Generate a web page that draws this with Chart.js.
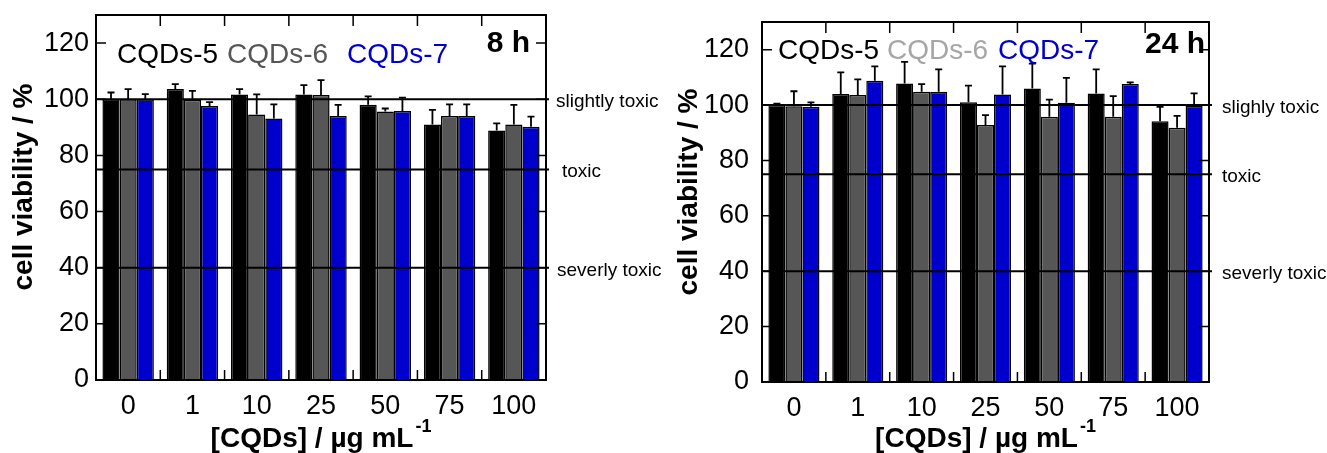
<!DOCTYPE html>
<html>
<head>
<meta charset="utf-8">
<script src="https://cdn.jsdelivr.net/npm/chart.js@4/dist/chart.umd.min.js"></script>
<style>
  body { margin: 0; background: #fff; }
  .panel { position: absolute; top: 0; height: 453px; }
  #left { left: 0; width: 663px; }
  #right { left: 663px; width: 664px; }
</style>
</head>
<body>
<div class="panel" id="left"><canvas id="chart8"></canvas></div>
<div class="panel" id="right"><canvas id="chart24"></canvas></div>
<script>
// concentrations of CQDs, ug/mL
const concentrations = ["0", "1", "10", "25", "50", "75", "100"];
const seriesNames = ["CQDs-5", "CQDs-6", "CQDs-7"];
const yTicks = [0, 20, 40, 60, 80, 100, 120];

// 8 h viability (%) and upper error
const cqd5_8h = [100, 103.6, 101.7, 101.7, 98, 91, 88.9];
const cqd5_8h_err = [2.4, 1.8, 1.9, 3.3, 3, 5.2, 2.5];
const cqd6_8h = [100, 99.8, 94.6, 101.5, 95.6, 94, 91];
const cqd6_8h_err = [3.6, 3.2, 7.1, 5.3, 1.1, 4.2, 7];
const cqd7_8h = [100, 97.6, 93.1, 94, 95.8, 94, 90.2];
const cqd7_8h_err = [1.8, 1.4, 5.1, 4, 4.8, 4.2, 3.6];

// 24 h viability (%) and upper error
const cqd5_24h = [100, 104, 107.8, 101, 106, 104.2, 94.2];
const cqd5_24h_err = [0.5, 7.8, 7.8, 6, 9, 8.7, 5.2];
const cqd6_24h = [99.6, 103.6, 104.8, 92.8, 95.8, 95.8, 91.8];
const cqd6_24h_err = [5.4, 5.7, 2.8, 3.6, 6.2, 7.4, 4.3];
const cqd7_24h = [99.4, 108.8, 104.8, 103.8, 100.8, 107.6, 99.8];
const cqd7_24h_err = [1.6, 5.2, 8.1, 10.2, 9, 0.6, 4.4];

// toxicity thresholds
const thresholdValues = [100, 75, 40];

const FONT = "'Liberation Sans', Arial, sans-serif";
const barColors = ["#000000", "#565656", "#0000cc"];


// ---------------------------------------------------------
// Draws error bars, threshold lines, frame, inward ticks and texts
// ---------------------------------------------------------
const overlayPlugin = {
  id: "overlay",
  afterDatasetsDraw(chart, args, opts) {
    const { ctx, chartArea: a, scales: { x, y } } = chart;
    ctx.save();

    // error bars (upper only)
    ctx.strokeStyle = "#000";
    ctx.lineWidth = 1.8;
    chart.data.datasets.forEach((ds, i) => {
      chart.getDatasetMeta(i).data.forEach((bar, j) => {
        const top = y.getPixelForValue(ds.data[j] + ds.errors[j]);
        ctx.beginPath();
        ctx.moveTo(bar.x, y.getPixelForValue(ds.data[j]));
        ctx.lineTo(bar.x, top);
        ctx.moveTo(bar.x - 3.5, top);
        ctx.lineTo(bar.x + 3.5, top);
        ctx.stroke();
      });
    });

    // threshold lines + labels
    ctx.lineWidth = 2;
    ctx.font = "19px " + FONT;
    ctx.fillStyle = "#000";
    ctx.textBaseline = "alphabetic";
    ctx.textAlign = "left";
    thresholdValues.forEach((v, i) => {
      const py = y.getPixelForValue(v);
      ctx.beginPath();
      ctx.moveTo(a.left, py);
      ctx.lineTo(a.right + 3, py);
      ctx.stroke();
      const lab = opts.labels[i];
      ctx.fillText(lab.text, a.right + lab.dx, py + 8);
    });

    // frame
    ctx.lineWidth = 2;
    ctx.strokeRect(a.left, a.top, a.width, a.height);

    // inward ticks
    ctx.lineWidth = 1.5;
    ctx.beginPath();
    yTicks.slice(1).forEach(v => {
      const py = y.getPixelForValue(v);
      ctx.moveTo(a.left, py); ctx.lineTo(a.left + 10, py);
      ctx.moveTo(a.right, py); ctx.lineTo(a.right - 10, py);
    });
    const step = a.width / concentrations.length;
    for (let i = 1; i < concentrations.length; i++) {
      const px = a.left + i * step;
      ctx.moveTo(px, a.top); ctx.lineTo(px, a.top + 11);
      ctx.moveTo(px, a.bottom); ctx.lineTo(px, a.bottom - 10);
    }
    ctx.stroke();

    // legend as coloured text
    ctx.font = "28px " + FONT;
    opts.legend.forEach((item, i) => {
      ctx.fillStyle = item.color;
      ctx.fillText(seriesNames[i], a.left + item.dx, a.top + opts.legendY);
    });

    // time label
    ctx.font = "bold 30px " + FONT;
    ctx.fillStyle = "#000";
    ctx.textAlign = "right";
    ctx.fillText(opts.time, a.right - opts.timeDx, a.top + opts.timeY);

    // x title with superscript
    ctx.textAlign = "left";
    ctx.font = "bold 28px " + FONT;
    const main = "[CQDs] / µg mL";
    const wMain = ctx.measureText(main).width;
    ctx.font = "bold 18px " + FONT;
    const wSup = ctx.measureText("-1").width;
    const startX = (a.left + a.right) / 2 - (wMain + 2 + wSup) / 2;
    const base = a.bottom + opts.xTitleY;
    ctx.font = "bold 28px " + FONT;
    ctx.fillText(main, startX, base);
    ctx.font = "bold 18px " + FONT;
    ctx.fillText("-1", startX + wMain + 2, base - 15);

    // y title
    ctx.font = "bold 28px " + FONT;
    ctx.translate(opts.yTitleX, opts.yTitleY);
    ctx.rotate(-Math.PI / 2);
    ctx.textAlign = "center";
    ctx.textBaseline = "middle";
    ctx.fillText("cell viability / %", 0, 0);

    ctx.restore();
  }
};


function makeDataset(label, data, errors, color) {
  return {
    label, data, errors,
    backgroundColor: color,
    borderColor: "#000",
    borderWidth: 1.5,
    categoryPercentage: 0.8,
    barPercentage: 1.0
  };
}


function makeChart(id, series, cfg) {
  return new Chart(document.getElementById(id), {
    type: "bar",
    data: {
      labels: concentrations,
      datasets: series.map((s, i) => makeDataset(seriesNames[i], s[0], s[1], barColors[i]))
    },
    options: {
      responsive: true,
      maintainAspectRatio: false,
      animation: false,
      devicePixelRatio: 1,
      layout: { padding: cfg.padding },
      plugins: {
        legend: { display: false },
        tooltip: { enabled: false },
        overlay: cfg.overlay
      },
      scales: {
        x: {
          grid: { display: false, drawTicks: false },
          border: { display: false },
          ticks: { color: "#000", font: { family: FONT, size: 27 }, padding: 10, maxRotation: 0 },
          afterFit: s => {
            s.height = cfg.xHeight;
            s.paddingLeft = 0; s.paddingRight = 0;
          }
        },
        y: {
          min: 0,
          max: 130,
          grid: { display: false, drawTicks: false },
          border: { display: false },
          ticks: { color: "#000", font: { family: FONT, size: 27 }, padding: cfg.yPad },
          afterBuildTicks: s => { s.ticks = yTicks.map(v => ({ value: v })); },
          afterFit: s => {
            s.width = cfg.yWidth;
            s.paddingTop = 0; s.paddingBottom = 0;
          }
        }
      }
    },
    plugins: [overlayPlugin]
  });
}


makeChart("chart8",
  [[cqd5_8h, cqd5_8h_err], [cqd6_8h, cqd6_8h_err], [cqd7_8h, cqd7_8h_err]],
  {
    padding: { top: 15, right: 117, left: 0, bottom: 0 },
    xHeight: 73, yWidth: 96, yPad: 7,
    overlay: {
      labels: [{ text: "slightly toxic", dx: 10 }, { text: "toxic", dx: 16 }, { text: "severly toxic", dx: 11 }],
      legend: [{ dx: 21, color: "#000" }, { dx: 131, color: "#565656" }, { dx: 251, color: "#0000cc" }],
      legendY: 48,
      time: "8 h", timeDx: 16, timeY: 37,
      xTitleY: 67,
      yTitleX: 24, yTitleY: 187
    }
  });

makeChart("chart24",
  [[cqd5_24h, cqd5_24h_err], [cqd6_24h, cqd6_24h_err], [cqd7_24h, cqd7_24h_err]],
  {
    padding: { top: 22, right: 118, left: 0, bottom: 0 },
    xHeight: 71, yWidth: 99, yPad: 13,
    overlay: {
      labels: [{ text: "slighly toxic", dx: 13 }, { text: "toxic", dx: 13 }, { text: "severly toxic", dx: 13 }],
      legend: [{ dx: 16, color: "#000" }, { dx: 125, color: "#a6a6a6" }, { dx: 236, color: "#0000cc" }],
      legendY: 37,
      time: "24 h", timeDx: 4, timeY: 31,
      xTitleY: 65,
      yTitleX: 26, yTitleY: 192
    }
  });
</script>
</body>
</html>
